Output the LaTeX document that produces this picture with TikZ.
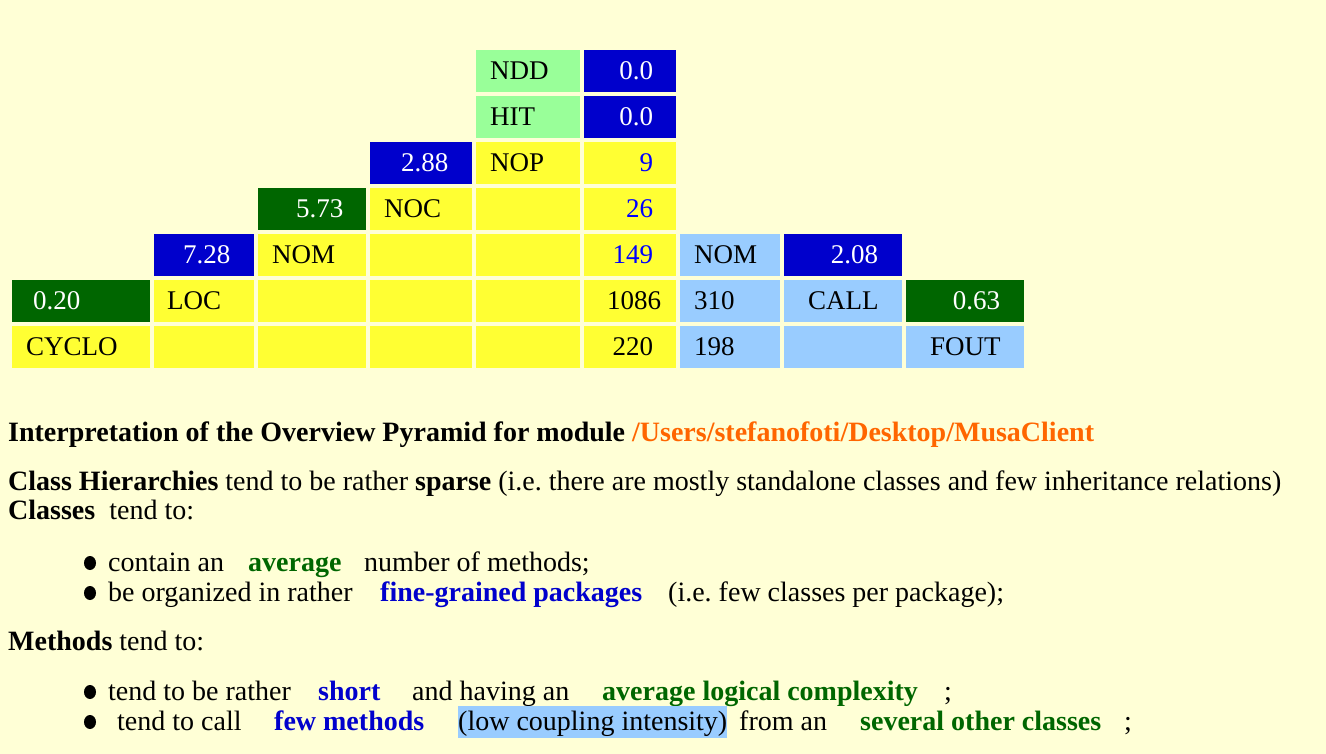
\documentclass[tikz,border=0pt]{standalone}
\usepackage{fontspec}
\setmainfont{Liberation Serif}
\usepackage{tikz}
\usetikzlibrary{positioning}
\frenchspacing

\definecolor{pagebg}{RGB}{255,255,214}
\definecolor{cellyellow}{RGB}{255,255,51}
\definecolor{cellgreen}{RGB}{153,255,153}
\definecolor{cellblue}{RGB}{0,0,204}
\definecolor{celldark}{RGB}{0,102,0}
\definecolor{celllight}{RGB}{153,204,255}
\definecolor{numblue}{RGB}{0,0,255}
\definecolor{wordgreen}{RGB}{0,102,0}
\definecolor{wordblue}{RGB}{0,0,204}
\definecolor{pathorange}{RGB}{255,102,0}

\newcommand\pyrfont{\fontsize{27}{32}\selectfont}
\newcommand\notefont{\fontsize{28}{33}\selectfont}

\begin{document}
\begin{tikzpicture}[
    x=1pt, y=-1pt,
    cell/.style={rectangle, fill=#1, minimum height=42pt, inner xsep=0pt, inner ysep=0pt,
        text height=19pt, text depth=3pt, anchor=north west, font=\pyrfont},
    ecell/.style 2 args={cell=#1, minimum width=#2},
    lcell/.style n args={3}{cell=#1, minimum width=#2, text width=#2-2*#3, inner xsep=#3, align=left},
    rcell/.style n args={3}{cell=#1, minimum width=#2, text width=#2-2*#3, inner xsep=#3, align=right},
    txt/.style={anchor=base west, inner sep=0pt, font=\notefont},
    hi/.style={txt, font=\notefont\bfseries, text=#1},
    hi/.default={black},
    dot/.style={fill=black}
]

% === BACKGROUND ===
\fill[pagebg] (0,0) rectangle (1326,754);

% === PYRAMID: row 1-2 ===
\node[lcell={cellgreen}{104}{14}] (ndd) at (476,50) {NDD};
\node[rcell={cellblue}{92}{23}, text=white] (nddv) at (584,50) {0.0};
\node[lcell={cellgreen}{104}{14}] (hit) at (476,96) {HIT};
\node[rcell={cellblue}{92}{23}, text=white] (hitv) at (584,96) {0.0};

% === row 3 ===
\node[rcell={cellblue}{102}{31}, text=white] (nopv) at (370,142) {2.88};
\node[lcell={cellyellow}{104}{14}] (nop) at (476,142) {NOP};
\node[rcell={cellyellow}{92}{23}, text=numblue] (nopn) at (584,142) {9};

% === row 4 ===
\node[rcell={celldark}{108}{38}, text=white] (nocv) at (258,188) {5.73};
\node[lcell={cellyellow}{102}{14}] (noc) at (370,188) {NOC};
\node[ecell={cellyellow}{104}] (e44) at (476,188) {};
\node[rcell={cellyellow}{92}{23}, text=numblue] (nocn) at (584,188) {26};

% === row 5 ===
\node[rcell={cellblue}{100}{29}, text=white] (nomv) at (154,234) {7.28};
\node[lcell={cellyellow}{108}{14}] (nom) at (258,234) {NOM};
\node[ecell={cellyellow}{102}] (e53) at (370,234) {};
\node[ecell={cellyellow}{104}] (e54) at (476,234) {};
\node[rcell={cellyellow}{92}{23}, text=numblue] (nomn) at (584,234) {149};
\node[lcell={celllight}{100}{14}] (nomr) at (680,234) {NOM};
\node[rcell={cellblue}{118}{24}, text=white] (callv) at (784,234) {2.08};

% === row 6 ===
\node[lcell={celldark}{138}{21}, text=white] (locv) at (12,280) {0.20};
\node[lcell={cellyellow}{100}{13}] (loc) at (154,280) {LOC};
\node[ecell={cellyellow}{108}] (e62) at (258,280) {};
\node[ecell={cellyellow}{102}] (e63) at (370,280) {};
\node[ecell={cellyellow}{104}] (e64) at (476,280) {};
\node[rcell={cellyellow}{92}{23}] (locn) at (584,280) {1086};
\node[lcell={celllight}{100}{14}] (nomc) at (680,280) {310};
\node[rcell={celllight}{118}{24}] (call) at (784,280) {CALL};
\node[rcell={celldark}{118}{24}, text=white] (foutv) at (906,280) {0.63};

% === row 7 ===
\node[lcell={cellyellow}{138}{14}] (cyclo) at (12,326) {CYCLO};
\node[ecell={cellyellow}{100}] (e71) at (154,326) {};
\node[ecell={cellyellow}{108}] (e72) at (258,326) {};
\node[ecell={cellyellow}{102}] (e73) at (370,326) {};
\node[ecell={cellyellow}{104}] (e74) at (476,326) {};
\node[rcell={cellyellow}{92}{23}] (cyclon) at (584,326) {220};
\node[lcell={celllight}{100}{14}] (callc) at (680,326) {198};
\node[ecell={celllight}{118}] (e77) at (784,326) {};
\node[rcell={celllight}{118}{24}] (fout) at (906,326) {FOUT};

% === INTERPRETATION ===
\node[txt] (title) at (8,441) {\bfseries Interpretation of the Overview Pyramid for module \textcolor{pathorange}{/Users/stefanofoti/Desktop/MusaClient}};
\node[txt] (hier) at (8,490) {\textbf{Class Hierarchies} tend to be rather \textbf{sparse} (i.e. there are mostly standalone classes and few inheritance relations)};
\node[txt] (classes) at (8,519) {\textbf{Classes}\ \ tend to:};

\fill[dot] (90,563) ellipse (6 and 7);
\node[txt] (c1a) at (108,571) {contain an};
\node[hi=wordgreen] (c1b) at (248,571) {average};
\node[txt] (c1c) at (364,571) {number of methods;};

\fill[dot] (90,593) ellipse (6 and 7);
\node[txt] (c2a) at (108,601) {be organized in rather};
\node[hi=wordblue] (c2b) at (380,601) {fine-grained packages};
\node[txt] (c2c) at (668,601) {(i.e. few classes per package);};

\node[txt] (methods) at (8,650) {\textbf{Methods} tend to:};

\fill[dot] (90,692) ellipse (6 and 7);
\node[txt] (m1a) at (108,700) {tend to be rather};
\node[hi=wordblue] (m1b) at (318,700) {short};
\node[txt] (m1c) at (412,700) {and having an};
\node[hi=wordgreen] (m1d) at (602,700) {average logical complexity};
\node[txt] (m1e) at (944,700) {;};

\fill[dot] (90,722) ellipse (6 and 7);
\node[txt] (m2a) at (117,730) {tend to call};
\node[hi=wordblue] (m2b) at (274,730) {few methods};
\node[txt, fill=celllight, text height=24pt, text depth=8pt] (m2c) at (458,730) {(low coupling intensity)};
\node[txt] (m2d) at (739,730) {from an};
\node[hi=wordgreen] (m2e) at (860,730) {several other classes};
\node[txt] (m2f) at (1124,730) {;};

\end{tikzpicture}
\end{document}
